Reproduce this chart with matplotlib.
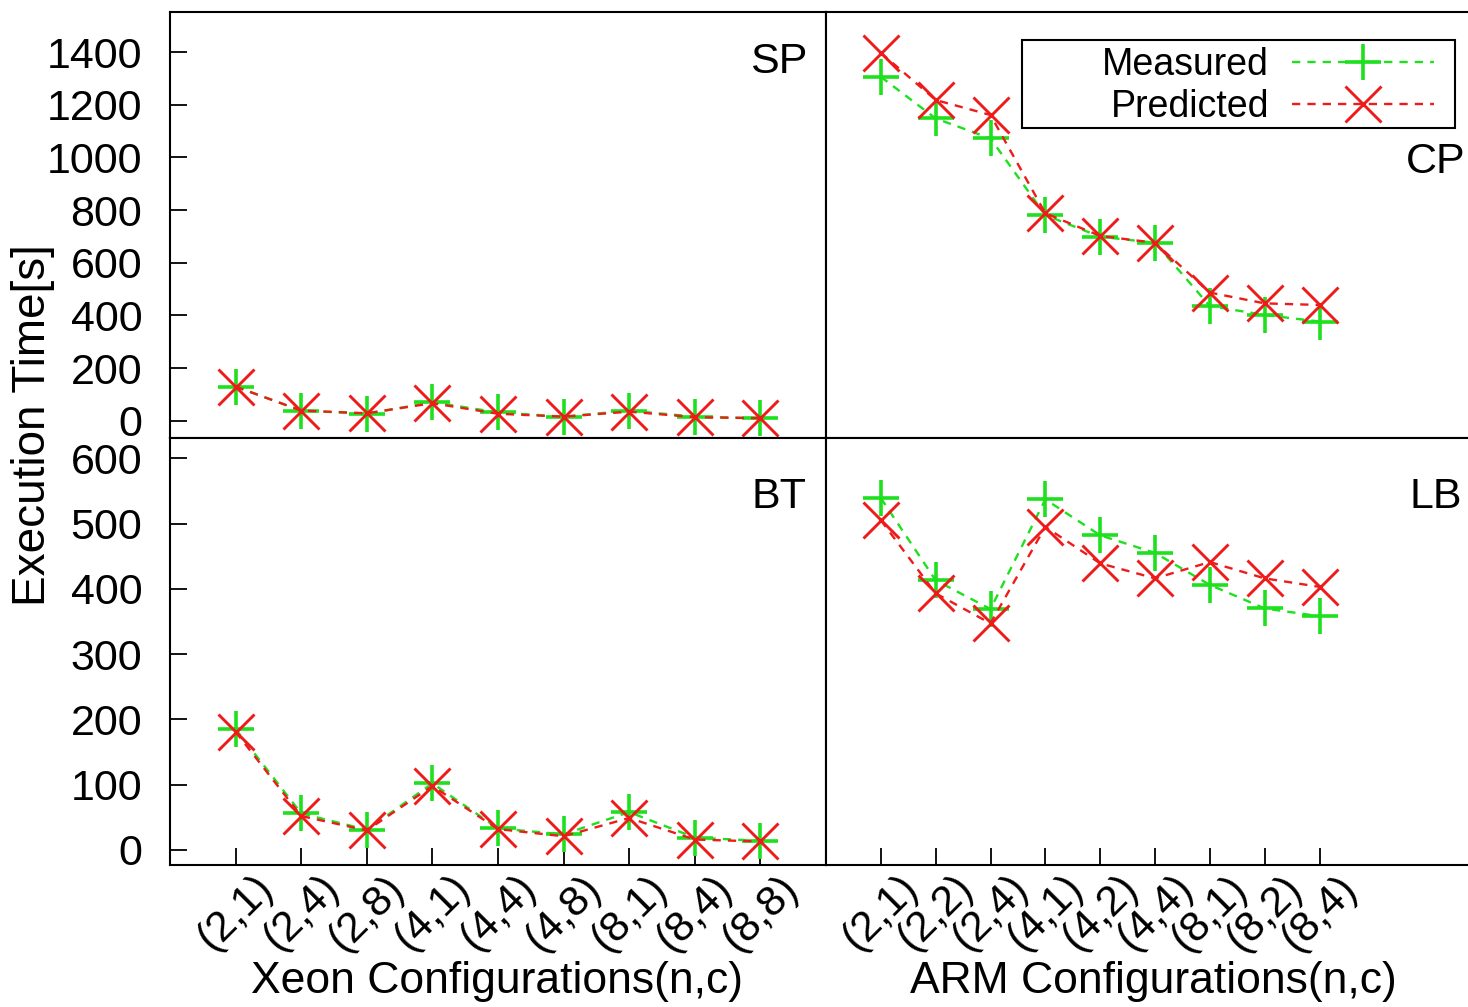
import numpy as np
import matplotlib
matplotlib.use("Agg")
import matplotlib.pyplot as plt
from matplotlib.patches import Rectangle

plt.rcParams['font.family'] = ['Liberation Sans', 'DejaVu Sans']

# data
xeon_labels = ['(2,1)', '(2,4)', '(2,8)', '(4,1)', '(4,4)', '(4,8)', '(8,1)', '(8,4)', '(8,8)']
arm_labels = ['(2,1)', '(2,2)', '(2,4)', '(4,1)', '(4,2)', '(4,4)', '(8,1)', '(8,2)', '(8,4)']

sp_measured = [130, 39, 27, 71, 32, 16, 39, 16, 10]
sp_predicted = [130, 39, 29, 67, 27, 16, 35, 14, 10]
cp_measured = [1306, 1148, 1072, 781, 699, 676, 436, 402, 377]
cp_predicted = [1397, 1218, 1161, 788, 702, 676, 487, 446, 440]
bt_measured = [185, 56, 31, 102, 33, 24, 58, 19, 14]
bt_predicted = [181, 52, 30, 98, 32, 21, 49, 16, 13]
lb_measured = [539, 413, 369, 537, 482, 455, 406, 370, 358]
lb_predicted = [505, 393, 347, 495, 439, 416, 441, 416, 403]

top_ticks = [0, 200, 400, 600, 800, 1000, 1200, 1400]
bottom_ticks = [0, 100, 200, 300, 400, 500, 600]

GREEN = '#1ee01e'
RED = '#ee1b1b'

W, H = 1468, 1007
fig = plt.figure(figsize=(W / 100, H / 100), dpi=100)


def px_axes(x0, y0, x1, y1):
    return fig.add_axes([x0 / W, 1 - y1 / H, (x1 - x0) / W, (y1 - y0) / H])


ax_sp = px_axes(170, 12, 826, 438)
ax_cp = px_axes(826, 12, 1484, 438)
ax_bt = px_axes(170, 438, 826, 865)
ax_lb = px_axes(826, 438, 1484, 865)

panels = [
    (ax_sp, sp_measured, sp_predicted, 'SP', (0.972, 0.883)),
    (ax_cp, cp_measured, cp_predicted, 'CP', (0.972, 0.648)),
    (ax_bt, bt_measured, bt_predicted, 'BT', (0.970, 0.862)),
    (ax_lb, lb_measured, lb_predicted, 'LB', (0.967, 0.862)),
]

for ax, meas, pred, name, pos in panels:
    x = np.arange(1, len(meas) + 1)
    ax.plot(x, meas, color=GREEN, ls=(0, (3.5, 3)), lw=1.7, marker='+', ms=26,
            mew=2.6, label='Measured')
    ax.plot(x, pred, color=RED, ls=(0, (3.5, 3)), lw=1.7, marker='x', ms=26,
            mew=2.1, label='Predicted')
    ax.text(pos[0], pos[1], name, transform=ax.transAxes, ha='right',
            va='center', fontsize=31)
    for s in ax.spines.values():
        s.set_linewidth(1.5)

# limits
ax_sp.set_xlim(0, 10)
ax_bt.set_xlim(0, 10)
ax_cp.set_xlim(0, 12)
ax_lb.set_xlim(0, 12)
ax_sp.set_ylim(-65, 1552)
ax_cp.set_ylim(-65, 1552)
ax_bt.set_ylim(-23, 631)
ax_lb.set_ylim(-23, 631)

for ax in (ax_cp, ax_lb):
    ax.spines['right'].set_visible(False)

# y ticks only on the left panels
ax_sp.set_yticks(top_ticks)
ax_bt.set_yticks(bottom_ticks)
for ax in (ax_sp, ax_bt):
    ax.tick_params(axis='y', direction='in', length=12, width=1.3,
                   labelsize=31, pad=20)
for ax in (ax_cp, ax_lb):
    ax.set_yticks([])

# x ticks only on the bottom panels
for ax in (ax_sp, ax_cp):
    ax.set_xticks([])
ax_bt.set_xticks(np.arange(1, 10))
ax_bt.set_xticklabels(xeon_labels)
ax_lb.set_xticks(np.arange(1, 10))
ax_lb.set_xticklabels(arm_labels)
for ax in (ax_bt, ax_lb):
    ax.tick_params(axis='x', direction='in', length=12, width=1.3,
                   labelsize=31, pad=2)
    for lab in ax.get_xticklabels():
        lab.set_rotation(45)
        lab.set_ha('center')
        lab.set_va('top')

# gnuplot-style key: box drawn by hand, entries placed inside it
box_x0, box_y0, box_x1, box_y1 = 1022, 40, 1455, 128
fig.patches.append(Rectangle((box_x0 / W, 1 - box_y1 / H),
                             (box_x1 - box_x0) / W, (box_y1 - box_y0) / H,
                             transform=fig.transFigure, fill=False,
                             edgecolor='black', lw=1.5, zorder=5))
leg = ax_cp.legend(loc='upper right',
                   bbox_to_anchor=(1434 / W, 1 - 47 / H),
                   bbox_transform=fig.transFigure,
                   borderaxespad=0, markerfirst=False, fontsize=27,
                   handlelength=3.8, frameon=False, labelspacing=0.15,
                   borderpad=0.0, handletextpad=0.6)
leg._legend_box.align = 'right'
for t in leg.get_texts():
    t.set_ha('right')

fig.text(33 / W, 1 - 425 / H, 'Execution Time[s]', rotation=90,
         ha='center', va='center', fontsize=33)
fig.text(497 / W, 1 - 982 / H, 'Xeon Configurations(n,c)', ha='center',
         va='center', fontsize=32)
fig.text(1153 / W, 1 - 982 / H, 'ARM Configurations(n,c)', ha='center',
         va='center', fontsize=32)

fig.savefig('out.png', dpi=100)
